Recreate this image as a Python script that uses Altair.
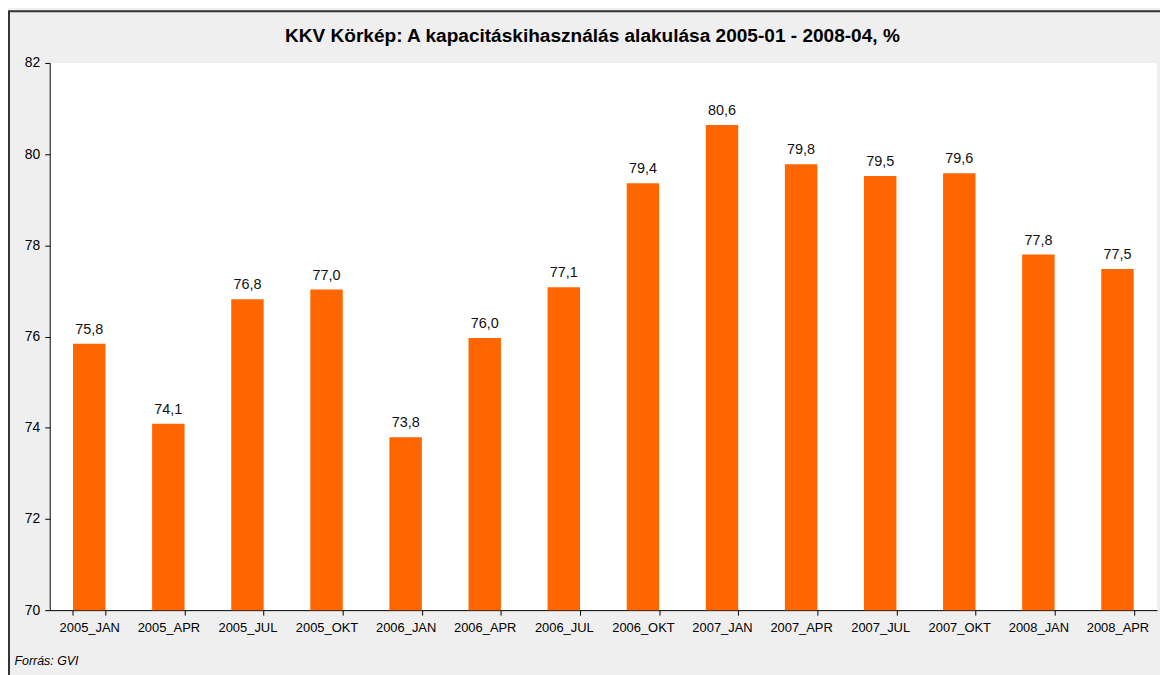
import altair as alt
import pandas as pd

categories = ["2005_JAN", "2005_APR", "2005_JUL", "2005_OKT", "2006_JAN", "2006_APR", "2006_JUL",
              "2006_OKT", "2007_JAN", "2007_APR", "2007_JUL", "2007_OKT", "2008_JAN", "2008_APR"]
values = [75.84, 74.09, 76.82, 77.03, 73.79, 75.97, 77.08, 79.36, 80.64, 79.78, 79.52, 79.58, 77.80, 77.48]
y_ticks = [70, 72, 74, 76, 78, 80, 82]

title_text = "KKV Körkép: A kapacitáskihasználás alakulása 2005-01 - 2008-04, %"
source_text = "Forrás: GVI"

df = pd.DataFrame({"period": categories, "value": values})

W, H = 1115, 551
FONT = "Liberation Sans"

x_enc = alt.X(
    "period:N", sort=categories,
    scale=alt.Scale(paddingInner=0.59, paddingOuter=0.295),
    axis=alt.Axis(
        title=source_text, labelAngle=0, labelFontSize=13, labelColor="#000", labelFont=FONT,
        labelPadding=7, tickBand="extent", tickSize=5, tickColor="#000", domainColor="#000",
        titleFont=FONT, titleFontSize=12.5, titleFontStyle="italic", titleFontWeight="normal",
        titleColor="#000", titleX=-36, titleY=55, titleAlign="left", titleBaseline="alphabetic",
        titleAnchor="start",
    ),
)
y_enc = alt.Y(
    "value:Q",
    scale=alt.Scale(domain=[70, 82], nice=False, zero=False),
    axis=alt.Axis(
        title=None, values=y_ticks, grid=False, labelFontSize=14, labelColor="#000", labelFont=FONT,
        labelPadding=5, tickSize=5, tickColor="#000", domainColor="#000",
    ),
)

base = alt.Chart(df)
bars = base.mark_bar(color="#FF6600").encode(x=x_enc, y=y_enc, y2=alt.datum(70))
labels = base.mark_text(
    baseline="alphabetic", dy=-10, fontSize=14.5, font=FONT, color="#111"
).transform_calculate(
    label="replace(format(datum.value, '.1f'), '.', ',')"
).encode(x=alt.X("period:N", sort=categories), y="value:Q", text="label:N")

frame = alt.Chart(pd.DataFrame({"a": [0]})).mark_rect(
    fillOpacity=0, stroke="#333", strokeWidth=2
).encode(x=alt.value(-41), x2=alt.value(W + 60), y=alt.value(-52), y2=alt.value(H + 100))

chart = alt.layer(bars, labels, frame).properties(
    width=W, height=H,
    title=alt.TitleParams(title_text, fontSize=19.2, fontWeight="bold", font=FONT, color="#000",
                          anchor="middle", baseline="alphabetic", offset=10, dy=61, dx=-11),
    autosize=alt.AutoSizeParams(type="none"),
    padding={"left": 42, "top": 53, "right": 3, "bottom": 63},
    background="#EFEFEF",
).configure_view(fill="white", stroke=None)

chart.save("out.html", embed_options={"renderer": "svg", "actions": False})
